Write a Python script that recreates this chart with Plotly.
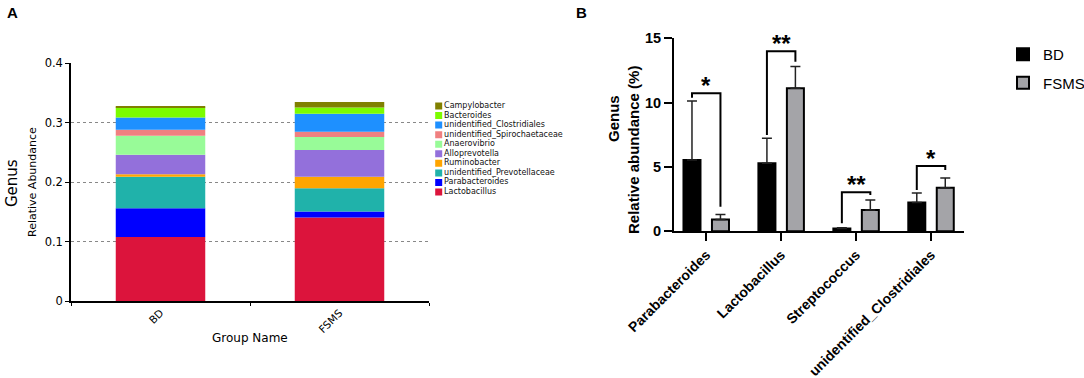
import numpy as np
import plotly.graph_objects as go

W, H = 1084, 378

# ---------------- Panel A data ----------------
groups = ["BD", "FSMS"]
genera = ["Lactobacillus", "Parabacteroides", "unidentified_Prevotellaceae", "Ruminobacter",
          "Alloprevotella", "Anaerovibrio", "unidentified_Spirochaetaceae",
          "unidentified_Clostridiales", "Bacteroides", "Campylobacter"]
bd_abund = [0.1077, 0.0483, 0.0527, 0.0045, 0.0325, 0.0320, 0.0101, 0.0208, 0.0168, 0.0022]
fsms_abund = [0.1403, 0.0101, 0.0392, 0.0191, 0.0449, 0.0219, 0.0089, 0.0303, 0.0107, 0.0090]
genus_colors = ["#DC143C", "#0000FF", "#20B2AA", "#FFA500", "#9370DB", "#98FB98",
                "#F08080", "#1E90FF", "#7CFC00", "#808000"]
a_yticks = [0, 0.1, 0.2, 0.3, 0.4]
a_yticktext = ["0", "0.1", "0.2", "0.3", "0.4"]
a_grid = [0.1, 0.2, 0.3]

# ---------------- Panel B data ----------------
b_genera = ["Parabacteroides", "Lactobacillus", "Streptococcus", "unidentified_Clostridiales"]
bd_mean = [5.54, 5.28, 0.21, 2.23]
bd_sd = [4.59, 1.95, 0.07, 0.75]
fsms_mean = [0.91, 11.11, 1.66, 3.39]
fsms_sd = [0.39, 1.69, 0.78, 0.76]
sig_labels = ["*", "**", "**", "*"]
bracket_top = [10.72, 14.0, 3.03, 5.07]
bracket_left_end = [10.38, 7.48, 0.62, 3.21]
bracket_right_end = [1.91, 13.18, 2.82, 4.76]

fig = go.Figure()

# empty helper trace so the grid-only overlay axis (dotted lines at 0.1-0.3) is drawn
fig.add_trace(go.Scatter(x=groups, y=[None, None], mode="markers", xaxis="x", yaxis="y4",
                         showlegend=False, hoverinfo="skip"))

# ---- Panel A stacked bars (explicit bases from cumulative sums) ----
bd_base = np.concatenate([[0.0], np.cumsum(bd_abund)[:-1]])
fs_base = np.concatenate([[0.0], np.cumsum(fsms_abund)[:-1]])
for i, g in enumerate(genera):
    fig.add_trace(go.Bar(
        x=groups, y=[bd_abund[i], fsms_abund[i]], base=[bd_base[i], fs_base[i]],
        width=0.5, name=g, marker=dict(color=genus_colors[i], line=dict(width=0)),
        xaxis="x", yaxis="y", showlegend=False))

# custom legend for panel A (compact spacing)
fig.add_trace(go.Scatter(
    x=[0.06] * len(genera), y=list(range(len(genera))), mode="markers+text",
    text=genera, textposition="middle right",
    textfont=dict(family="DejaVu Sans", size=8, color="#111"),
    marker=dict(symbol="square", size=7, color=genus_colors),
    xaxis="x3", yaxis="y3", showlegend=False, hoverinfo="skip"))

# ---- Panel B grouped bars ----
bw = 0.227
half = 0.19
xs = list(range(len(b_genera)))
fig.add_trace(go.Bar(
    x=xs, y=bd_mean, width=bw, offset=-half - bw / 2, name="BD",
    marker=dict(color="black", line=dict(color="black", width=2)),
    error_y=dict(type="data", array=bd_sd, arrayminus=[0] * 4, symmetric=False,
                 color="#222", thickness=1.5, width=5),
    xaxis="x2", yaxis="y2", legendgroup="BD"))
fig.add_trace(go.Bar(
    x=xs, y=fsms_mean, width=bw, offset=half - bw / 2, name="FSMS",
    marker=dict(color="#A4A4A8", line=dict(color="black", width=2)),
    error_y=dict(type="data", array=fsms_sd, arrayminus=[0] * 4, symmetric=False,
                 color="#222", thickness=1.5, width=5),
    xaxis="x2", yaxis="y2", legendgroup="FSMS"))

# significance brackets
bx, by = [], []
for i in xs:
    bx += [i - half, i - half, i + half, i + half, None]
    by += [bracket_left_end[i], bracket_top[i], bracket_top[i], bracket_right_end[i], None]
fig.add_trace(go.Scatter(x=bx, y=by, mode="lines", line=dict(color="black", width=2),
                         xaxis="x2", yaxis="y2", showlegend=False, hoverinfo="skip"))

annotations = []
for i in xs:
    annotations.append(dict(x=i, y=bracket_top[i], xref="x2", yref="y2", text=sig_labels[i],
                            showarrow=False, yanchor="middle", yshift=8,
                            font=dict(family="Liberation Sans, Arial", size=24, color="black", weight="bold")))

# panel letters and titles
annotations += [
    dict(x=5 / W, y=(H - 12) / H, xref="paper", yref="paper", text="<b>A</b>", showarrow=False,
         xanchor="left", yanchor="middle", font=dict(family="Liberation Sans, Arial", size=15, color="black")),
    dict(x=574 / W, y=(H - 12) / H, xref="paper", yref="paper", text="<b>B</b>", showarrow=False,
         xanchor="left", yanchor="middle", font=dict(family="Liberation Sans, Arial", size=15, color="black")),
    dict(x=12 / W, y=(H - 183) / H, xref="paper", yref="paper", text="Genus", textangle=-90,
         showarrow=False, xanchor="center", yanchor="middle",
         font=dict(family="DejaVu Sans", size=15, color="black")),
    dict(x=32 / W, y=(H - 182) / H, xref="paper", yref="paper", text="Relative Abundance", textangle=-90,
         showarrow=False, xanchor="center", yanchor="middle",
         font=dict(family="DejaVu Sans", size=11, color="black")),
    dict(x=250 / W, y=(H - 338) / H, xref="paper", yref="paper", text="Group Name",
         showarrow=False, xanchor="center", yanchor="middle",
         font=dict(family="DejaVu Sans", size=12, color="black")),
    dict(x=614 / W, y=(H - 119) / H, xref="paper", yref="paper", text="<b>Genus</b>", textangle=-90,
         showarrow=False, xanchor="center", yanchor="middle",
         font=dict(family="Liberation Sans, Arial", size=15, color="black")),
    dict(x=633 / W, y=(H - 150) / H, xref="paper", yref="paper", text="<b>Relative abundance (%)</b>",
         textangle=-90, showarrow=False, xanchor="center", yanchor="middle",
         font=dict(family="Liberation Sans, Arial", size=15, color="black")),
]

axA_font = dict(family="DejaVu Sans", size=11.5, color="black")
fig.update_layout(
    width=W, height=H, margin=dict(l=0, r=0, t=0, b=0, autoexpand=False),
    paper_bgcolor="white", plot_bgcolor="white",
    barmode="overlay",
    xaxis=dict(domain=[71 / W, 429 / W], type="category", range=[-0.5, 1.5], anchor="y",
               tickson="boundaries", ticks="outside", ticklen=3, tickcolor="black",
               showline=True, linecolor="black", linewidth=1.5, tickangle=-45,
               tickfont=dict(family="DejaVu Sans", size=10.5, color="black"), showgrid=False),
    yaxis=dict(domain=[(H - 301) / H, (H - 63) / H], range=[0, 0.4], anchor="x",
               tickvals=a_yticks, ticktext=a_yticktext, ticks="outside", ticklen=4,
               tickcolor="black", showline=True, linecolor="black", linewidth=1.5,
               showgrid=False, zeroline=False, tickfont=axA_font),
    yaxis4=dict(overlaying="y", anchor="x", range=[0, 0.4], tickvals=a_grid, showgrid=True,
                gridcolor="#888888", griddash="dot", gridwidth=1.2, showticklabels=False,
                ticks="", showline=False, zeroline=False, side="right"),
    xaxis2=dict(domain=[674 / W, 964 / W], range=[-0.43, 3.44], anchor="y2",
                tickvals=xs, ticktext=b_genera, tickangle=-45, ticks="outside", ticklen=8,
                tickwidth=2, tickcolor="black", showline=True, linecolor="black", linewidth=2,
                showgrid=False, zeroline=False,
                tickfont=dict(family="Liberation Sans, Arial", size=14, color="black", weight="bold")),
    yaxis2=dict(domain=[(H - 231.3) / H, (H - 38.3) / H], range=[0, 15], anchor="x2",
                tickvals=[0, 5, 10, 15], ticks="outside", ticklen=8, tickwidth=2, tickcolor="black",
                showline=True, linecolor="black", linewidth=2, showgrid=False, zeroline=False,
                tickfont=dict(family="Liberation Sans, Arial", size=14.5, color="black", weight="bold")),
    xaxis3=dict(domain=[430 / W, 575 / W], range=[0, 1], anchor="y3", visible=False),
    yaxis3=dict(domain=[(H - 196.8) / H, (H - 101.2) / H], range=[-0.5, 9.5], anchor="x3", visible=False),
    legend=dict(x=1003 / W, y=(H - 38) / H, xanchor="left", yanchor="top",
                font=dict(family="Liberation Sans, Arial", size=15, color="black"),
                tracegroupgap=6, traceorder="grouped", bgcolor="rgba(0,0,0,0)"),
    annotations=annotations,
)

fig.write_html("out.html", config={"displayModeBar": False},
               post_script="document.body.style.margin='0';document.body.style.padding='0';")
